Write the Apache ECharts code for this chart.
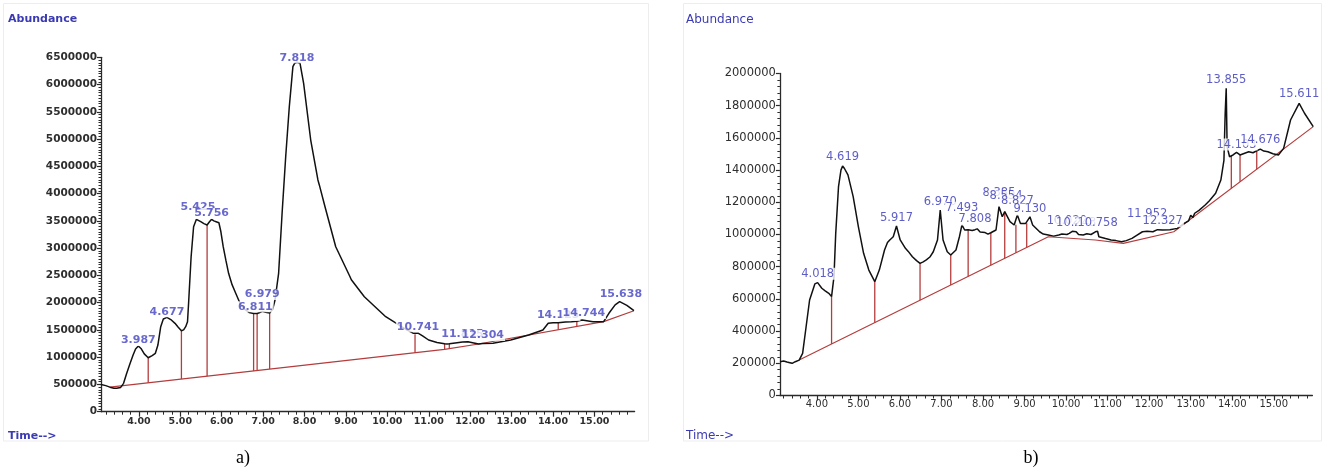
<!DOCTYPE html>
<html>
<head>
<meta charset="utf-8">
<script src="https://cdn.jsdelivr.net/npm/echarts@6/dist/echarts.min.js"></script>
<style>
  html, body { margin: 0; padding: 0; background: #ffffff; }
  #chart { width: 1326px; height: 468px; }
</style>
</head>
<body>
<div id="chart"></div>
<script>
// ---------- Panel a) ----------
const timeA = [3.085, 3.2, 3.3, 3.4, 3.46, 3.56, 3.63, 3.7, 3.78, 3.86, 3.92, 3.987, 4.05, 4.13, 4.225, 4.32, 4.398, 4.459, 4.527, 4.59, 4.677, 4.77, 4.872, 4.95, 5.027, 5.08, 5.13, 5.174, 5.2, 5.261, 5.321, 5.389, 5.425, 5.493, 5.57, 5.647, 5.7, 5.756, 5.81, 5.865, 5.932, 5.98, 6.036, 6.1, 6.166, 6.25, 6.338, 6.442, 6.55, 6.66, 6.77, 6.811, 6.855, 6.92, 6.979, 7.06, 7.157, 7.23, 7.287, 7.374, 7.458, 7.545, 7.632, 7.719, 7.76, 7.818, 7.891, 7.978, 8.149, 8.323, 8.36, 8.494, 8.753, 9.098, 9.13, 9.444, 9.96, 10.477, 10.62, 10.668, 10.741, 10.85, 10.996, 11.2, 11.382, 11.44, 11.496, 11.684, 11.815, 11.945, 12.203, 12.304, 12.549, 12.979, 13.411, 13.756, 13.884, 14.0, 14.126, 14.3, 14.445, 14.575, 14.703, 14.744, 14.964, 15.222, 15.35, 15.5, 15.609, 15.638, 15.783, 15.954];
const abundA = [500000, 478000, 450000, 432000, 429000, 445000, 520000, 690000, 870000, 1040000, 1150000, 1205000, 1160000, 1060000, 990000, 1030000, 1071000, 1223000, 1559000, 1700000, 1731000, 1690000, 1621000, 1550000, 1486000, 1500000, 1560000, 1651000, 1988000, 2843000, 3393000, 3529000, 3545000, 3485000, 3450000, 3424000, 3480000, 3529000, 3500000, 3485000, 3466000, 3300000, 3026000, 2780000, 2538000, 2330000, 2172000, 1988000, 1880000, 1820000, 1800000, 1815000, 1800000, 1820000, 1840000, 1825000, 1810000, 1880000, 2049000, 2538000, 3639000, 4677000, 5594000, 6328000, 6390000, 6410000, 6390000, 6023000, 4983000, 4250000, 4150000, 3760000, 3026000, 2476000, 2420000, 2109000, 1742000, 1498000, 1440000, 1420000, 1440000, 1390000, 1315000, 1270000, 1245000, 1240000, 1245000, 1266000, 1280000, 1284000, 1242000, 1250000, 1255000, 1315000, 1407000, 1498000, 1621000, 1630000, 1632000, 1645000, 1651000, 1660000, 1682000, 1685000, 1651000, 1651000, 1805000, 1960000, 2018000, 2020000, 1950000, 1852000];
// integration baseline vertices
const baseTimeA = [3.3, 11.382, 12.203, 15.222, 15.954];
const baseAbundA = [450000, 1144000, 1242000, 1651000, 1852000];
// peak boundaries (drop lines)
const dropTimeA = [4.225, 5.027, 5.647, 6.77, 6.855, 7.157, 10.668, 11.382, 11.496, 14.126, 14.575];
// retention-time labels: text, time, apex abundance
const peakTextA = ['3.987', '4.677', '5.425', '5.756', '6.811', '6.979', '7.818', '10.741', '11.815', '12.304', '14.125', '14.744', '15.638'];
const peakTimeA = [3.987, 4.677, 5.425, 5.756, 6.811, 6.979, 7.818, 10.741, 11.815, 12.304, 14.125, 14.744, 15.638];
const peakAbundA = [1177000, 1704000, 3622000, 3507000, 1796000, 2021000, 6362000, 1429000, 1288000, 1269000, 1636000, 1673000, 2021000];

// ---------- Panel b) ----------
const timeB = [3.112, 3.2, 3.28, 3.35, 3.406, 3.48, 3.574, 3.657, 3.741, 3.825, 3.951, 4.018, 4.119, 4.2, 4.287, 4.354, 4.412, 4.454, 4.521, 4.58, 4.619, 4.664, 4.748, 4.874, 5.0, 5.125, 5.251, 5.394, 5.503, 5.629, 5.7, 5.755, 5.839, 5.917, 6.006, 6.132, 6.2, 6.3, 6.4, 6.484, 6.56, 6.635, 6.72, 6.803, 6.904, 6.97, 7.038, 7.139, 7.223, 7.349, 7.432, 7.493, 7.558, 7.642, 7.684, 7.74, 7.808, 7.86, 7.93, 7.978, 8.05, 8.12, 8.188, 8.313, 8.385, 8.464, 8.523, 8.554, 8.649, 8.75, 8.792, 8.827, 8.901, 9.027, 9.052, 9.13, 9.195, 9.362, 9.45, 9.572, 9.7, 9.824, 9.9, 10.02, 10.076, 10.15, 10.243, 10.3, 10.411, 10.5, 10.6, 10.705, 10.758, 10.789, 10.95, 11.083, 11.2, 11.335, 11.45, 11.586, 11.7, 11.838, 11.952, 12.09, 12.2, 12.327, 12.5, 12.677, 12.845, 12.95, 13.0, 13.05, 13.096, 13.2, 13.348, 13.45, 13.6, 13.726, 13.8, 13.83, 13.855, 13.877, 13.936, 13.978, 14.02, 14.103, 14.188, 14.3, 14.397, 14.5, 14.59, 14.676, 14.76, 14.859, 14.98, 15.111, 15.237, 15.404, 15.611, 15.74, 15.95];
const abundB = [210000, 214000, 208000, 204000, 200000, 210000, 220000, 262000, 427000, 593000, 693000, 701000, 666000, 650000, 635000, 614000, 738000, 1007000, 1297000, 1400000, 1425000, 1410000, 1370000, 1235000, 1048000, 883000, 779000, 707000, 779000, 904000, 950000, 966000, 986000, 1053000, 966000, 914000, 895000, 862000, 838000, 821000, 830000, 842000, 860000, 893000, 966000, 1152000, 966000, 893000, 873000, 904000, 986000, 1060000, 1028000, 1030000, 1038000, 1025000, 1030000, 1035000, 1015000, 1007000, 1012000, 1002000, 1011000, 1028000, 1173000, 1110000, 1142000, 1150000, 1080000, 1059000, 1060000, 1121000, 1069000, 1069000, 1070000, 1110000, 1059000, 1017000, 1003000, 997000, 990000, 997000, 1003000, 1000000, 1007000, 1020000, 1017000, 1000000, 997000, 1005000, 1000000, 1017000, 1020000, 986000, 975000, 966000, 962000, 955000, 962000, 976000, 995000, 1017000, 1020000, 1017000, 1030000, 1028000, 1030000, 1038000, 1069000, 1085000, 1120000, 1105000, 1132000, 1150000, 1183000, 1210000, 1256000, 1338000, 1460000, 1750000, 1908000, 1545000, 1483000, 1490000, 1494000, 1510000, 1494000, 1505000, 1514000, 1508000, 1520000, 1530000, 1518000, 1514000, 1502000, 1494000, 1535000, 1711000, 1815000, 1753000, 1670000];
const baseTimeB = [3.574, 9.572, 10.705, 11.377, 12.593, 15.95];
const baseAbundB = [220000, 986000, 966000, 945000, 1017000, 1670000];
const dropTimeB = [4.354, 5.394, 6.484, 7.223, 7.642, 8.188, 8.523, 8.792, 9.052, 13.978, 14.188, 14.59];
const peakTextB = ['4.018', '4.619', '5.917', '6.970', '7.493', '7.808', '8.385', '8.554', '8.827', '9.130', '10.020', '10.243', '10.758', '11.952', '12.327', '13.855', '14.103', '14.676', '15.611'];
const peakTimeB = [4.018, 4.619, 5.917, 6.97, 7.493, 7.808, 8.385, 8.554, 8.827, 9.13, 10.02, 10.243, 10.758, 11.952, 12.327, 13.855, 14.103, 14.676, 15.611];
const peakAbundB = [709000, 1433000, 1057000, 1154000, 1119000, 1047000, 1212000, 1191000, 1160000, 1109000, 1036000, 1026000, 1026000, 1078000, 1036000, 1916000, 1512000, 1543000, 1823000];

// ---------- axis tick values ----------
const timeTickLabels = [4, 5, 6, 7, 8, 9, 10, 11, 12, 13, 14, 15];
const yMaxA = 6500000, yStepA = 500000;
const yMaxB = 2000000, yStepB = 200000;

// ---------- helpers ----------
const zip = (xs, ys) => xs.map((x, i) => [x, ys[i]]);
function lineAt(xs, ys, t) {
  for (let i = 0; i < xs.length - 1; i++) {
    if (t >= xs[i] && t <= xs[i + 1]) {
      const f = (t - xs[i]) / (xs[i + 1] - xs[i]);
      return ys[i] + f * (ys[i + 1] - ys[i]);
    }
  }
  return ys[ys.length - 1];
}
// vertical segments from the baseline up to the trace, separated by gaps
function drops(dropTimes, times, abund, bTimes, bAbund) {
  const out = [];
  dropTimes.forEach(t => {
    const top = abund[times.indexOf(t)];
    out.push([t, lineAt(bTimes, bAbund, t)], [t, top], [t, '-']);
  });
  return out;
}
const minorTicks = (lo, hi) => {
  const v = [];
  for (let k = Math.ceil(lo * 5); k <= Math.floor(hi * 5); k++) if (k % 5 !== 0) v.push(k / 5);
  return v;
};

const INK = '#111111';
const RED = '#b43c3c';
const AXIS = '#2a2a2a';

function timeAxes(grid, lo, hi, font, labelSize, weight, margin) {
  return [
    {
      gridIndex: grid, type: 'value', position: 'bottom', min: lo, max: hi,
      axisLine: { show: true, onZero: false, lineStyle: { color: AXIS, width: 1.3 } },
      axisTick: { show: true, customValues: timeTickLabels, length: 5, lineStyle: { color: AXIS, width: 1.2 } },
      axisLabel: {
        show: true, customValues: timeTickLabels, margin: margin,
        formatter: v => Number(v).toFixed(2),
        fontFamily: font, fontSize: labelSize, fontWeight: weight, color: '#2e2e2e'
      },
      splitLine: { show: false }
    },
    {
      gridIndex: grid, type: 'value', position: 'bottom', min: lo, max: hi,
      axisLine: { show: false },
      axisTick: { show: true, customValues: minorTicks(lo, hi), length: 3, lineStyle: { color: AXIS, width: 1 } },
      axisLabel: { show: false },
      splitLine: { show: false }
    }
  ];
}

function abundAxis(grid, max, step, minorSplit, font, size, weight) {
  return {
    gridIndex: grid, type: 'value', min: 0, max: max, interval: step,
    axisLine: { show: true, lineStyle: { color: AXIS, width: 1.3 } },
    axisTick: { show: true, length: 4, lineStyle: { color: AXIS, width: 1.2 } },
    minorTick: { show: true, splitNumber: minorSplit, length: 2.5, lineStyle: { color: AXIS, width: 1 } },
    axisLabel: { margin: 4, formatter: v => String(v), fontFamily: font, fontSize: size, fontWeight: weight, color: '#2e2e2e' },
    splitLine: { show: false }, minorSplitLine: { show: false }
  };
}

function panelSeries(xi, yi, times, abund, bT, bA, dT, pText, pTime, pAbund, lbl) {
  return [
    { type: 'line', xAxisIndex: xi, yAxisIndex: yi, data: zip(bT, bA), showSymbol: false,
      lineStyle: { color: RED, width: 1.2 }, z: 2, silent: true },
    { type: 'line', xAxisIndex: xi, yAxisIndex: yi, data: drops(dT, times, abund, bT, bA), showSymbol: false,
      connectNulls: false, lineStyle: { color: RED, width: 1.3 }, z: 2, silent: true },
    { type: 'line', xAxisIndex: xi, yAxisIndex: yi, data: zip(times, abund), showSymbol: false,
      lineStyle: { color: INK, width: 1.5 }, z: 3, silent: true },
    { type: 'scatter', xAxisIndex: xi, yAxisIndex: yi, symbolSize: 1, silent: true,
      itemStyle: { color: 'rgba(0,0,0,0)' }, z: 6,
      data: pTime.map((t, i) => ({ name: pText[i], value: [t, pAbund[i]] })),
      label: Object.assign({ show: true, position: 'top', distance: 1, formatter: p => p.name,
        backgroundColor: '#ffffff', padding: [0, 1, 0, 1] }, lbl),
      labelLayout: { hideOverlap: false } }
  ];
}

const chart = echarts.init(document.getElementById('chart'), null, { renderer: 'canvas' });
chart.setOption({
  animation: false,
  backgroundColor: '#ffffff',
  grid: [
    { left: 101, top: 57.3, width: 533.6, height: 354.4 },
    { left: 779.9, top: 73.5, width: 532.5, height: 322 }
  ],
  xAxis: [].concat(
    timeAxes(0, 3.085, 15.97, 'DejaVu Sans', 9.5, 'bold', 5),
    timeAxes(1, 3.11, 15.93, 'DejaVu Sans', 10, 'normal', 4)
  ),
  yAxis: [
    abundAxis(0, yMaxA, yStepA, 10, 'DejaVu Sans', 10.5, 'bold'),
    abundAxis(1, yMaxB, yStepB, 5, 'DejaVu Sans', 11.5, 'normal')
  ],
  series: [].concat(
    panelSeries(0, 0, timeA, abundA, baseTimeA, baseAbundA, dropTimeA, peakTextA, peakTimeA, peakAbundA,
      { fontFamily: 'DejaVu Sans', fontWeight: 'bold', fontSize: 11, lineHeight: 11, color: '#4242c0' }),
    panelSeries(2, 1, timeB, abundB, baseTimeB, baseAbundB, dropTimeB, peakTextB, peakTimeB, peakAbundB,
      { fontFamily: 'DejaVu Sans', fontWeight: 'normal', fontSize: 11.5, lineHeight: 12, color: '#3434b8' })
  ),
  graphic: [
    { type: 'rect', shape: { x: 3.5, y: 3.5, width: 645, height: 437.5 }, style: { fill: 'none', stroke: '#ededed', lineWidth: 1 }, silent: true, z: -1 },
    { type: 'rect', shape: { x: 683.5, y: 3.5, width: 638, height: 437.5 }, style: { fill: 'none', stroke: '#ededed', lineWidth: 1 }, silent: true, z: -1 },
    { type: 'text', x: 8, y: 19, style: { text: 'Abundance', font: 'bold 11px "DejaVu Sans"', fill: '#3a3ab4', verticalAlign: 'middle' } },
    { type: 'text', x: 8, y: 436, style: { text: 'Time-->', font: 'bold 11px "DejaVu Sans"', fill: '#3a3ab4', verticalAlign: 'middle' } },
    { type: 'text', x: 686, y: 20, style: { text: 'Abundance', font: '12px "DejaVu Sans"', fill: '#3a3ab4', verticalAlign: 'middle' } },
    { type: 'text', x: 686, y: 436, style: { text: 'Time-->', font: '12px "DejaVu Sans"', fill: '#3a3ab4', verticalAlign: 'middle' } },
    { type: 'text', x: 243, y: 458, style: { text: 'a)', font: '18px "Liberation Serif"', fill: '#000000', align: 'center', verticalAlign: 'middle' } },
    { type: 'text', x: 1031, y: 458, style: { text: 'b)', font: '18px "Liberation Serif"', fill: '#000000', align: 'center', verticalAlign: 'middle' } }
  ]
});
</script>
</body>
</html>
